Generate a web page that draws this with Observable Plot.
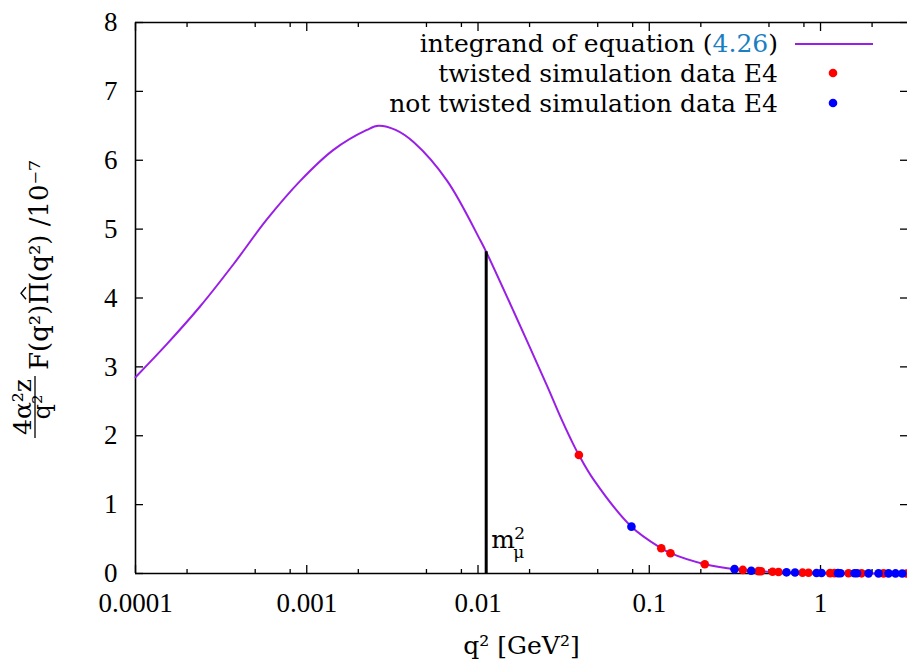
<!DOCTYPE html>
<html><head><meta charset="utf-8">
<script src="https://cdn.jsdelivr.net/npm/d3@7"></script>
<script src="https://cdn.jsdelivr.net/npm/@observablehq/plot@0.6"></script>
<style>body{margin:0;background:#fff;} #chart svg{display:block;}</style>
</head><body><div id="chart"></div>
<script>
// integrand curve (q^2 in GeV^2, value in units of 1e-7)
const curveQ = [0.0001, 0.0001524, 0.0002388, 0.0003733, 0.0005848, 0.0009162, 0.001432, 0.002244, 0.002624, 0.0033, 0.004217, 0.006607, 0.01035, 0.011164, 0.01618, 0.02535, 0.03034, 0.03467, 0.03882, 0.04742, 0.0787, 0.1175, 0.133, 0.2109, 0.3148, 0.5, 0.7, 1.0, 1.5, 2.0, 3.22];
const curveV = [2.85, 3.33, 3.88, 4.49, 5.14, 5.70, 6.15, 6.44, 6.50, 6.44, 6.26, 5.70, 4.83, 4.67, 3.80, 2.72, 2.27, 1.96, 1.72, 1.36, 0.68, 0.367, 0.295, 0.135, 0.063, 0.026, 0.014, 0.007, 0.0032, 0.0018, 0.0007];
// twisted simulation data E4
const twistedQ = [0.03882, 0.1175, 0.133, 0.2109, 0.3518, 0.4345, 0.4494, 0.5245, 0.5684, 0.785, 0.851, 1.137, 1.207, 1.457, 1.736, 2.333, 3.18];
const twistedV = [1.72, 0.367, 0.295, 0.135, 0.052, 0.035, 0.033, 0.025, 0.022, 0.012, 0.010, 0.0055, 0.005, 0.0035, 0.0025, 0.0015, 0.0008];
// not twisted simulation data E4
const plainQ = [0.0787, 0.3147, 0.3939, 0.633, 0.7099, 0.9476, 1.0135, 1.265, 1.309, 1.579, 1.633, 1.907, 2.182, 2.495, 2.741, 2.999];
const plainV = [0.68, 0.063, 0.041, 0.017, 0.014, 0.008, 0.007, 0.0048, 0.0045, 0.0032, 0.003, 0.0022, 0.0017, 0.0013, 0.0011, 0.0009];
// muon mass squared marker
const mMu2 = 0.011164;
const mMu2Value = 4.67;
// axes
const yTicks = [0, 1, 2, 3, 4, 5, 6, 7, 8];
const xTicks = [0.0001, 0.001, 0.01, 0.1, 1];
const xTickLabels = ["0.0001", "0.001", "0.01", "0.1", "1"];
const xMinorTicks = [0.0002, 0.0005, 0.0008, 0.002, 0.005, 0.008, 0.02, 0.05, 0.08, 0.2, 0.5, 0.8, 2];
const xLabel = "q² [GeV²]";
const legendLabels = ["integrand of equation (", "4.26", ")", "twisted simulation data E4", "not twisted simulation data E4"];

const curve = curveQ.map((q, i) => ({q, v: curveV[i]}));
const twisted = twistedQ.map((q, i) => ({q, v: twistedV[i]}));
const plain = plainQ.map((q, i) => ({q, v: plainV[i]}));
const marker = [{q: mMu2, v: mMu2Value}];

const purple = "#9a1fe6";
const textFont = "'DejaVu Serif', serif";

const plot = Plot.plot({
  width: 907, height: 669,
  marginLeft: 135, marginRight: 0, marginTop: 22, marginBottom: 96,
  style: {fontFamily: "'Liberation Serif', serif", fontSize: "27px", background: "#fff", color: "#000", overflow: "visible"},
  x: {type: "log", domain: [0.0001, 3.22]},
  y: {domain: [0, 8]},
  marks: [
    Plot.ruleX([0.0001], {stroke: "#000", strokeWidth: 1.6}),
    Plot.ruleY([0, 8], {stroke: "#000", strokeWidth: 1.6}),
    Plot.axisY(yTicks, {anchor: "left", tickSize: -8, tickPadding: 26, strokeWidth: 1.3, fontSize: 27, tickFormat: d => String(d), label: null}),
    Plot.axisY(yTicks, {anchor: "right", tickSize: -8, strokeWidth: 1.3, text: null, label: null}),
    Plot.axisX(xTicks, {anchor: "bottom", tickSize: -8, tickPadding: 27, strokeWidth: 1.3, fontSize: 27, tickFormat: d => xTickLabels[xTicks.indexOf(d)], label: null}),
    Plot.axisX(xTicks, {anchor: "top", tickSize: -8, strokeWidth: 1.3, text: null, label: null}),
    Plot.axisX(xMinorTicks, {anchor: "bottom", tickSize: -4, strokeWidth: 1.3, text: null, label: null}),
    Plot.axisX(xMinorTicks, {anchor: "top", tickSize: -4, strokeWidth: 1.3, text: null, label: null}),
    Plot.line(curve, {x: "q", y: "v", stroke: purple, strokeWidth: 2, curve: "catmull-rom"}),
    Plot.ruleX(marker, {x: "q", y1: 0, y2: "v", stroke: "#000", strokeWidth: 3}),
    Plot.text(marker, {x: "q", y: () => 0, text: () => "m", dx: 5, dy: -26, textAnchor: "start", lineAnchor: "bottom", fontFamily: textFont, fontSize: 25}),
    Plot.text(marker, {x: "q", y: () => 0, text: () => "2", dx: 28, dy: -35, textAnchor: "start", lineAnchor: "bottom", fontFamily: textFont, fontSize: 17}),
    Plot.text(marker, {x: "q", y: () => 0, text: () => "μ", dx: 27, dy: -16, textAnchor: "start", lineAnchor: "bottom", fontFamily: textFont, fontSize: 17}),
    Plot.dot(twisted, {x: "q", y: "v", r: 4.3, fill: "#ff0000", stroke: "none"}),
    Plot.dot(plain, {x: "q", y: "v", r: 4.3, fill: "#0000ff", stroke: "none"}),
    Plot.text([xLabel], {frameAnchor: "bottom", dy: 80, lineAnchor: "bottom", fontFamily: textFont, fontSize: 25})
  ]
});
document.getElementById("chart").appendChild(plot);

const svg = d3.select(plot);
// legend
const lg = svg.append("g").attr("font-family", textFont).attr("font-size", 25).attr("fill", "#000");
const t1 = lg.append("text").attr("x", 778).attr("y", 52).attr("text-anchor", "end");
t1.append("tspan").text(legendLabels[0]);
t1.append("tspan").attr("fill", "#1a7fc1").text(legendLabels[1]);
t1.append("tspan").text(legendLabels[2]);
lg.append("text").attr("x", 778).attr("y", 82).attr("text-anchor", "end").text(legendLabels[3]);
lg.append("text").attr("x", 778).attr("y", 112).attr("text-anchor", "end").text(legendLabels[4]);
lg.append("line").attr("x1", 795).attr("x2", 873).attr("y1", 44).attr("y2", 44).attr("stroke", purple).attr("stroke-width", 2);
lg.append("circle").attr("cx", 833).attr("cy", 73).attr("r", 4.3).attr("fill", "#ff0000");
lg.append("circle").attr("cx", 833).attr("cy", 103).attr("r", 4.3).attr("fill", "#0000ff");

// y label (rotated): fraction 4α²z / q² followed by F(q²)Π̂(q²) /10⁻⁷
const yl = svg.append("g").attr("font-family", textFont).attr("fill", "#000");
yl.append("text").attr("transform", "translate(31,407) rotate(-90)").attr("text-anchor", "middle").attr("font-size", 25).text("4α²z");
yl.append("line").attr("x1", 35).attr("x2", 35).attr("y1", 376).attr("y2", 438).attr("stroke", "#000").attr("stroke-width", 1.3);
yl.append("text").attr("transform", "translate(50,407) rotate(-90)").attr("text-anchor", "middle").attr("font-size", 24).text("q²");
const mg = yl.append("g").attr("transform", "translate(48,370) rotate(-90)");
const mt = mg.append("text").attr("x", 0).attr("y", 0).attr("text-anchor", "start").attr("font-size", 26);
mt.append("tspan").text("F(q²)");
mt.append("tspan").text("Π");
mt.append("tspan").text("(q²) /10⁻⁷");
const node = mt.node();
const w0 = node.getSubStringLength(0, 5);
const wPi = node.getSubStringLength(5, 1);
const cx = w0 + wPi / 2;
mg.append("path").attr("d", `M${cx - 6},-22 L${cx},-27 L${cx + 6},-22`).attr("fill", "none").attr("stroke", "#000").attr("stroke-width", 1.4);
</script>
</body></html>
